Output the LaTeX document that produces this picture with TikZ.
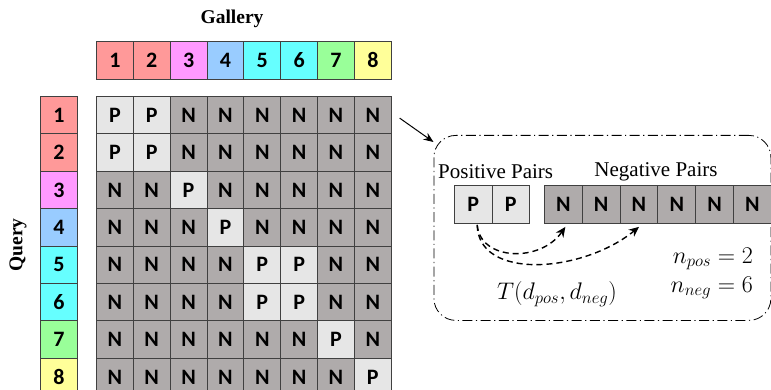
\documentclass[tikz,border=0pt]{standalone}
\usepackage{fix-cm}
\usepackage{fontspec}
\setmainfont{Liberation Serif}
\newfontfamily\cellfont{Carlito}
\usetikzlibrary{arrows.meta}

% palette
\definecolor{cpos}{HTML}{E6E6E6}
\definecolor{cneg}{HTML}{AFABAB}
\definecolor{gridc}{HTML}{404040}
\definecolor{gA}{HTML}{FF9999}
\definecolor{gB}{HTML}{FF99FF}
\definecolor{gC}{HTML}{99CCFF}
\definecolor{gD}{HTML}{66FFFF}
\definecolor{gE}{HTML}{99FF99}
\definecolor{gF}{HTML}{FFFF99}

\tikzset{
  cell/.style={draw=gridc, line width=0.9pt, minimum width=36.85pt,
    minimum height=37.4pt, inner sep=0pt, anchor=north west,
    font=\cellfont\bfseries\fontsize{22}{22}\selectfont},
  poscell/.style={cell, fill=cpos},
  negcell/.style={cell, fill=cneg},
  axislabel/.style={font=\bfseries\fontsize{19.5}{19.5}\selectfont},
  pairlabel/.style={font=\fontsize{21}{21}\selectfont, inner sep=0pt},
  mathlabel/.style={font=\fontsize{24}{28}\selectfont, inner sep=0pt},
  panelbox/.style={draw, line width=0.8pt, rounded corners=22pt,
    dash pattern=on 10pt off 3.5pt on 1.2pt off 3.5pt,
    minimum width=337pt, minimum height=185pt, inner sep=0pt, anchor=north west},
  pointer/.style={line width=1pt, -{Stealth[length=10pt,width=8pt]}},
  pairarrow/.style={line width=1.4pt, dash pattern=on 6pt off 4pt,
    -{Stealth[length=10pt,width=9pt]}},
}

\begin{document}
\begin{tikzpicture}[x=1pt,y=-1pt]
\useasboundingbox (0,0) rectangle (771,390);
\clip (0,0) rectangle (771,390);

% axis titles
\node[axislabel] (gal) at (232,19) {Gallery};
\node[axislabel, rotate=90] (qry) at (18,245) {Query};

% gallery identities
\foreach \j/\c in {1/gA,2/gA,3/gB,4/gC,5/gD,6/gD,7/gE,8/gF}
  \node[cell, fill=\c, minimum height=38pt] (g\j) at ({96+(\j-1)*36.85},41) {\j};

% query identities
\foreach \i/\c in {1/gA,2/gA,3/gB,4/gC,5/gD,6/gD,7/gE,8/gF}
  \node[cell, fill=\c, minimum width=37pt] (q\i) at (40,{96+(\i-1)*37.4}) {\i};

% pair matrix: P where query and gallery share an identity
\foreach \i/\gi in {1/1,2/1,3/2,4/3,5/4,6/4,7/5,8/6}
  \foreach \j/\gj in {1/1,2/1,3/2,4/3,5/4,6/4,7/5,8/6} {
    \ifnum\gi=\gj \def\kind{poscell}\def\lab{P}\else\def\kind{negcell}\def\lab{N}\fi
    \node[\kind] (m\i-\j) at ({96+(\j-1)*36.85},{96+(\i-1)*37.4}) {\lab};
  }

% detail panel for one query row
\node[panelbox] (panel) at (433.5,135) {};
\draw[pointer] ([xshift=8pt,yshift=-3pt]m1-8.east) -- ([yshift=-7pt]panel.north west);

\node[pairlabel, anchor=west] (plab) at (438,172) {Positive Pairs};
\node[pairlabel] (nlab) at (656,172) {Negative Pairs};

\foreach \k in {1,2}
  \node[poscell, minimum width=37.5pt, minimum height=38pt] (pp\k) at ({454+(\k-1)*37.5},185) {P};
\foreach \k in {1,...,6}
  \node[negcell, minimum width=37.8pt, minimum height=38pt] (nn\k) at ({544+(\k-1)*37.8},185) {N};

\draw[pairarrow] ([xshift=4pt,yshift=-1pt]pp1.south) .. controls +(3,36) and +(-25,36) .. ([xshift=2pt,yshift=-3pt]nn1.south);
\draw[pairarrow] ([xshift=4pt,yshift=-1pt]pp1.south) .. controls +(1,56) and +(-56,46) .. ([xshift=0pt,yshift=-3pt]nn3.south);

\node[mathlabel, anchor=east] (npos) at (753,259) {$n_{pos} = 2$};
\node[mathlabel, anchor=east] (nneg) at (753,288) {$n_{neg} = 6$};
\node[mathlabel] (trip) at (557,294) {$T\Bigl(d_{pos}, d_{neg}\Bigr)$};
\end{tikzpicture}
\end{document}
